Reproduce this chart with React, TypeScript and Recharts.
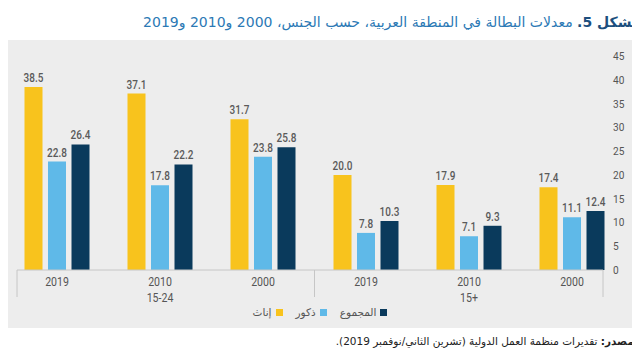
import React from 'react'
import { BarChart, Bar, XAxis, YAxis, Legend, LabelList } from 'recharts'

const years = ['2019', '2010', '2000', '2019', '2010', '2000']
const ageGroups = ['15-24', '15-24', '15-24', '15+', '15+', '15+']
const female = [38.5, 37.1, 31.7, 20.0, 17.9, 17.4]
const male = [22.8, 17.8, 23.8, 7.8, 7.1, 11.1]
const total = [26.4, 22.2, 25.8, 10.3, 9.3, 12.4]
const yTicks = [0, 5, 10, 15, 20, 25, 30, 35, 40, 45]

const SERIES = ['female', 'male', 'total']
const NAMES = { female: 'إناث', male: 'ذكور', total: 'المجموع' }
const COLORS = { female: '#f8c31d', male: '#5fb9e8', total: '#0a3a5c' }

const data = years.map((year, i) => ({
  key: `${ageGroups[i]} ${year}`,
  year,
  group: ageGroups[i],
  female: female[i],
  male: male[i],
  total: total[i],
}))

const NUM_FONT = "'Roboto', 'Liberation Sans', sans-serif"
const ARABIC = "'DejaVu Sans', 'Noto Sans', sans-serif"

const CHART_W = 640
const CHART_H = 288
const MARGIN = { top: 16, right: 0, bottom: 8, left: 17 }
const Y_W = 37
const PLOT_L = MARGIN.left
const PLOT_R = CHART_W - MARGIN.right - Y_W
const PAD = { left: -11.5, right: -20.5 }
const LINE = '#c6c6c6'

// condensed-looking tick text
function YearTick(props: any) {
  const { x, y, index } = props
  return (
    <text
      transform={`translate(${x},${y + 9}) scale(0.88,1)`}
      textAnchor="middle"
      fill="#555"
      fontSize={12}
      fontFamily={NUM_FONT}
    >
      {years[index]}
    </text>
  )
}

function GroupTick(props: any) {
  const { x, y, payload, index } = props
  const half = payload?.offset ?? 0
  const xs = index === 0 ? [PLOT_L, x + half] : [PLOT_R]
  return (
    <g>
      {xs.map((lx, i) => (
        <line key={i} x1={lx} x2={lx} y1={y - 24} y2={y + 3} stroke={LINE} strokeWidth={1} />
      ))}
      <text
        transform={`translate(${x},${y + 8}) scale(0.88,1)`}
        textAnchor="middle"
        fill="#555"
        fontSize={12}
        fontFamily={NUM_FONT}
      >
        {payload.value}
      </text>
    </g>
  )
}

function ValueTick(props: any) {
  const { x, y, payload } = props
  return (
    <text
      transform={`translate(${x},${y + 4}) scale(0.88,1)`}
      textAnchor="start"
      fill="#555"
      fontSize={11.5}
      fontFamily={NUM_FONT}
    >
      {payload.value}
    </text>
  )
}

function BarValue(props: any) {
  const { x, y, width, value } = props
  return (
    <text
      transform={`translate(${Number(x) + Number(width) / 2},${Number(y) - 5}) scale(0.8,1)`}
      textAnchor="middle"
      fill="#5a5a5a"
      fontSize={12.5}
      fontWeight={500}
      fontFamily={NUM_FONT}
    >
      {Number(value).toFixed(1)}
    </text>
  )
}

function renderLegend(props: any) {
  const payload = [...(props.payload || [])].sort(
    (a: any, b: any) => SERIES.indexOf(a.dataKey) - SERIES.indexOf(b.dataKey)
  )
  return (
    <div
      style={{
        display: 'flex',
        justifyContent: 'center',
        alignItems: 'center',
        gap: 13,
        height: 16,
        fontFamily: ARABIC,
        fontSize: 10.5,
        color: '#555',
      }}
    >
      {payload.map((p: any) => (
        <span key={p.value} style={{ display: 'flex', alignItems: 'center', gap: 4 }}>
          <span>{p.value}</span>
          <span style={{ width: 7, height: 7, background: p.color, display: 'inline-block' }} />
        </span>
      ))}
    </div>
  )
}

export default function App() {
  return (
    <div style={{ position: 'relative', width: 640, height: 360, margin: -8, overflow: 'hidden', background: '#fff' }}>
      <div
        style={{
          position: 'absolute',
          top: 10,
          right: -2,
          whiteSpace: 'nowrap',
          direction: 'rtl',
          fontFamily: ARABIC,
          fontSize: 14,
          lineHeight: '24px',
          color: '#2b79b5',
        }}
      >
        <span style={{ fontWeight: 'bold', color: '#1d4f7e' }}>الشكل 5.</span>
        {'  '}معدلات البطالة في المنطقة العربية، حسب الجنس، 2000 و2010 و2019
      </div>

      <div style={{ position: 'absolute', top: 40, left: 1, width: 639, height: 288, background: '#ededed' }} />

      <div style={{ position: 'absolute', top: 40, left: 0 }}>
        <BarChart width={CHART_W} height={CHART_H} data={data} margin={MARGIN} barSize={18} barGap={5.5}>
          <XAxis
            dataKey="key"
            padding={PAD}
            axisLine={{ stroke: LINE }}
            tickLine={false}
            tickSize={0}
            tickMargin={7}
            height={20}
            tick={<YearTick />}
            interval={0}
          />
          <XAxis
            xAxisId="group"
            dataKey="group"
            allowDuplicatedCategory={false}
            padding={PAD}
            axisLine={false}
            tickLine={false}
            tickSize={0}
            tickMargin={4}
            height={14}
            tick={<GroupTick />}
            interval={0}
          />
          <YAxis
            orientation="right"
            width={Y_W}
            domain={[0, 45]}
            ticks={yTicks}
            axisLine={false}
            tickLine={false}
            tickSize={0}
            tickMargin={10}
            tick={<ValueTick />}
          />
          <Legend verticalAlign="bottom" content={renderLegend} wrapperStyle={{ left: 0, width: 640 }} />
          <Bar dataKey="female" name={NAMES.female} fill={COLORS.female} isAnimationActive={false}>
            <LabelList dataKey="female" content={<BarValue />} />
          </Bar>
          <Bar dataKey="male" name={NAMES.male} fill={COLORS.male} isAnimationActive={false}>
            <LabelList dataKey="male" content={<BarValue />} />
          </Bar>
          <Bar dataKey="total" name={NAMES.total} fill={COLORS.total} isAnimationActive={false}>
            <LabelList dataKey="total" content={<BarValue />} />
          </Bar>
        </BarChart>
      </div>

      <div
        style={{
          position: 'absolute',
          top: 332,
          right: -2,
          whiteSpace: 'nowrap',
          direction: 'rtl',
          fontFamily: ARABIC,
          fontSize: 10.5,
          lineHeight: '18px',
          color: '#222',
        }}
      >
        <span style={{ fontWeight: 'bold' }}>المصدر:</span> تقديرات منظمة العمل الدولية (تشرين الثاني/نوفمبر 2019).
      </div>
    </div>
  )
}
